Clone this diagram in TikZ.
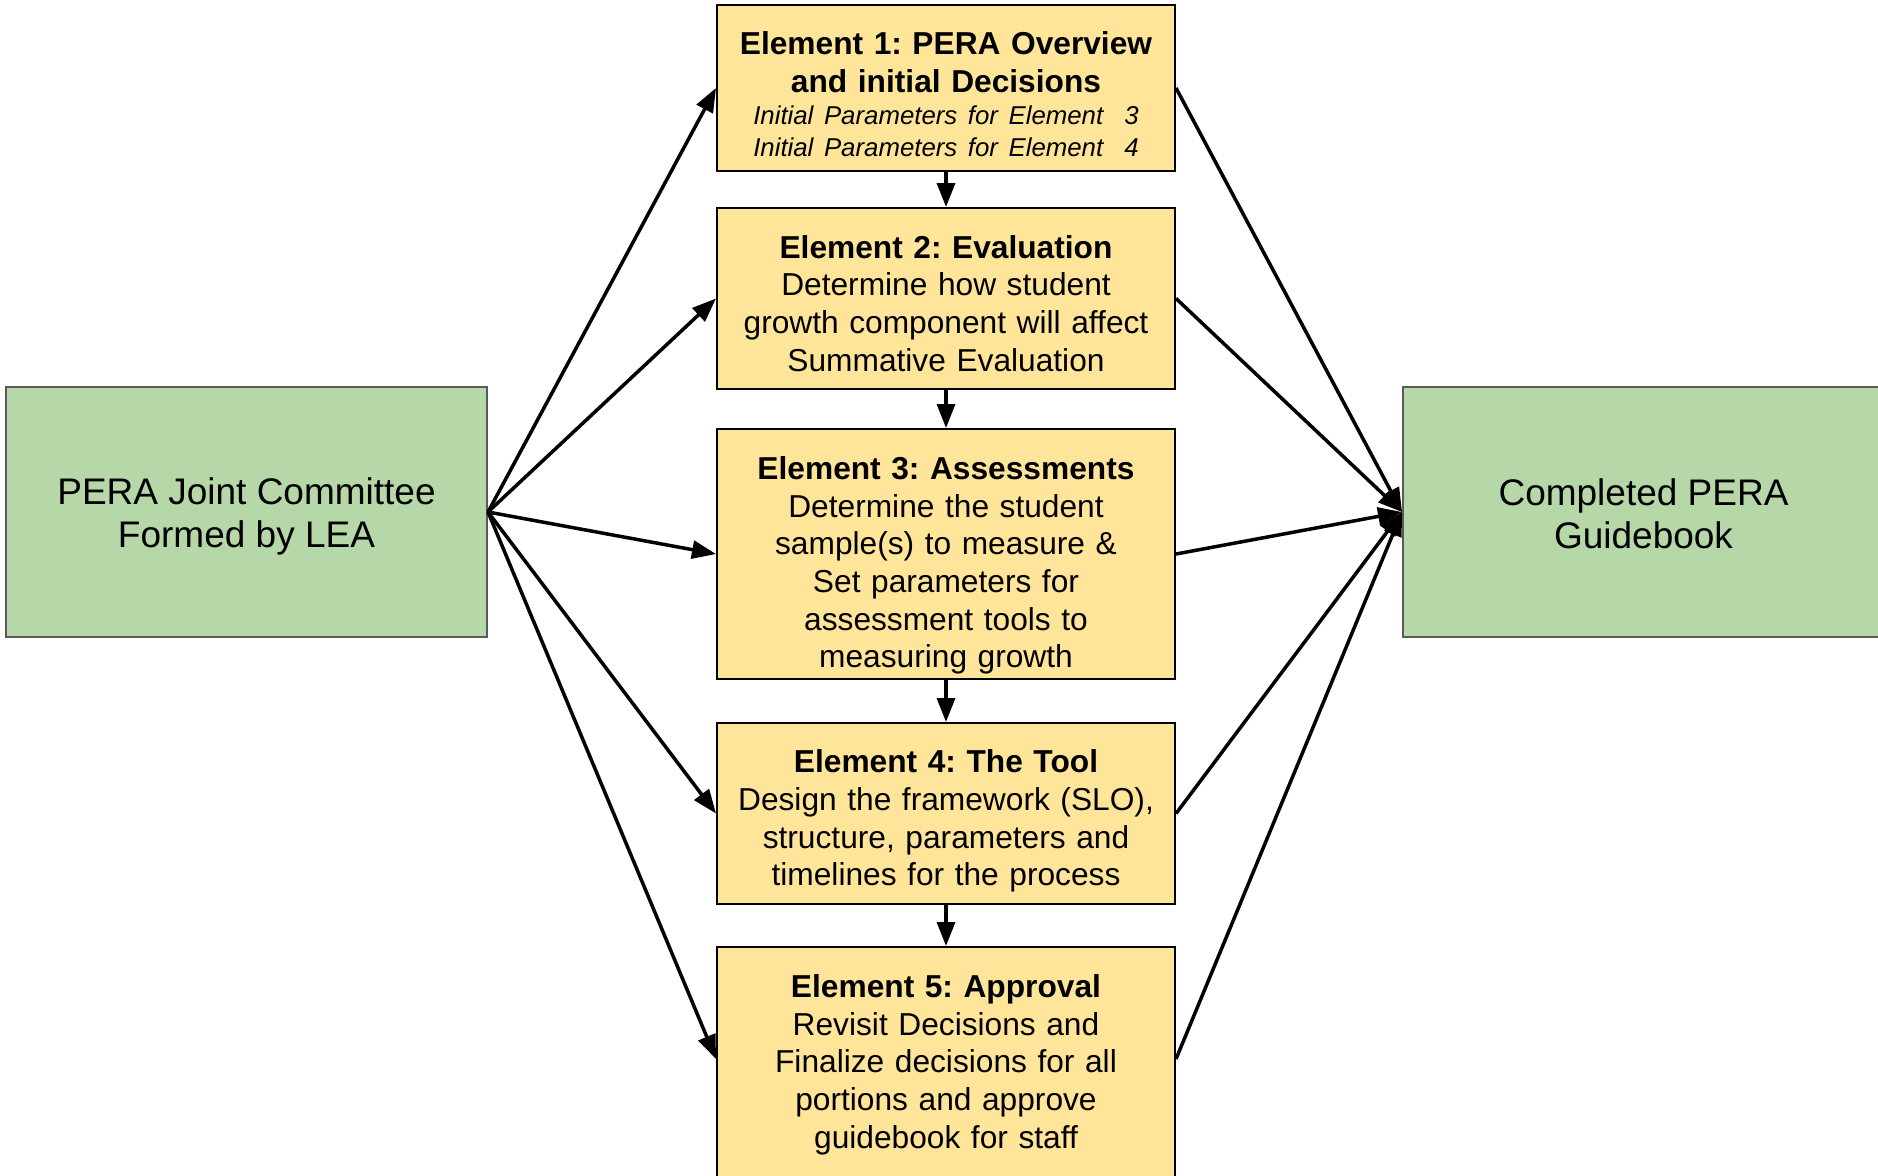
\documentclass[tikz,border=0pt]{standalone}
\usepackage{fontspec}
\setmainfont{Liberation Sans}
\usetikzlibrary{arrows.meta}
\definecolor{boxgreen}{HTML}{B6D7A8}
\definecolor{boxyellow}{HTML}{FFE599}
\definecolor{boxgray}{HTML}{595959}
\newcommand{\topstrut}[1]{\rule{0pt}{#1}}
\begin{document}
\frenchspacing
\begin{tikzpicture}[x=1pt,y=-1pt,
  greenbox/.style={draw=boxgray, fill=boxgreen, line width=2pt, minimum width=481pt,
    minimum height=250pt, inner sep=0pt, align=center,
    font=\fontsize{37pt}{43pt}\selectfont},
  elbox/.style={draw=black, fill=boxyellow, line width=2pt, minimum width=458pt,
    text width=456pt, inner sep=0pt, align=center,
    font=\fontsize{31.7pt}{37.7pt}\selectfont},
  conn/.style={line width=3.5pt, -{Triangle[length=24pt,width=18pt]}}]
\useasboundingbox (0,0) rectangle (1878,1175);
\clip (0,0) rectangle (1878,1175);

\node[greenbox] (L) at (246.5,512) {\topstrut{36pt}PERA Joint Committee\\Formed by LEA};
\node[greenbox] (R) at (1643.5,512) {\topstrut{30pt}Completed PERA\\Guidebook};

\node[elbox, minimum height=166pt] (e1) at (946,88)
  {\topstrut{35pt}\textbf{Element 1: PERA Overview\\and initial Decisions}\par
   \fontsize{25.8pt}{32pt}\selectfont\itshape Initial Parameters for Element\ \ 3\\Initial Parameters for Element\ \ 4\par};
\node[elbox, minimum height=181pt] (e2) at (946,298.5)
  {\topstrut{33pt}\textbf{Element 2: Evaluation}\\Determine how student\\growth component will affect\\Summative Evaluation\par};
\node[elbox, minimum height=250pt] (e3) at (946,554)
  {\topstrut{46pt}\textbf{Element 3: Assessments}\\Determine the student\\sample(s) to measure \&\\Set parameters for\\assessment tools to\\measuring growth\par};
\node[elbox, minimum height=181pt] (e4) at (946,813.5)
  {\topstrut{38pt}\textbf{Element 4: The Tool}\\Design the framework (SLO),\\structure, parameters and\\timelines for the process\par};
% Element 5 runs past the bottom edge of the picture
\filldraw[fill=boxyellow, draw=black, line width=2pt] (717,947) rectangle (1175,1210);
\node[elbox, draw=none, fill=none, minimum height=224pt] (e5) at (946,1059)
  {\topstrut{34pt}\textbf{Element 5: Approval}\\Revisit Decisions and\\Finalize decisions for all\\portions and approve\\guidebook for staff\par};

\foreach \e in {e1,e2,e3,e4,e5} {
  \draw[conn] (L.east) -- (\e.west);
  \draw[conn] (\e.east) -- (R.west);
}
\draw[conn] (e1.south) -- (e2.north);
\draw[conn] (e2.south) -- (e3.north);
\draw[conn] (e3.south) -- (e4.north);
\draw[conn] (e4.south) -- (e5.north);
\end{tikzpicture}
\end{document}
